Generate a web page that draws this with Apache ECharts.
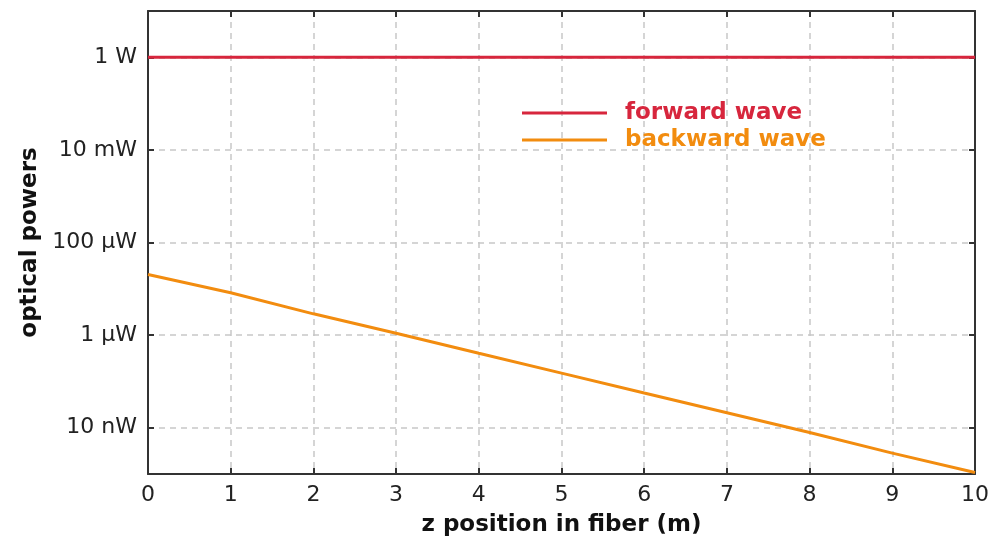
<!DOCTYPE html>
<html lang="en">
<head>
    <meta charset="UTF-8">
    <title>optical powers</title>
    <script src="https://cdn.jsdelivr.net/npm/echarts@6/dist/echarts.min.js"></script>
    <style>
        html, body { margin: 0; padding: 0; background: #fff; }
        #chart { width: 992px; height: 542px; }
    </style>
</head>
<body>
    <div id="chart"></div>
    <script>
        // z position in fiber (m)
        const zPos = [0, 1, 2, 3, 4, 5, 6, 7, 8, 9, 10];
        // powers in W
        const forwardWave = [1, 1, 1, 1, 1, 1, 1, 1, 1, 1, 1];
        const backwardWave = [2.04e-5, 8.2e-6, 2.88e-6, 1.1e-6, 4.06e-7, 1.51e-7, 5.6e-8, 2.1e-8, 7.85e-9, 2.82e-9, 1.08e-9];
        const seriesNames = ['forward wave', 'backward wave'];

        const red = '#d7263d', orange = '#f28c0f';
        const font = '"DejaVu Sans", Verdana, sans-serif';

        // 1 W, 10 mW, 100 µW ... (only even powers of ten get a label)
        const prefixes = { 0: '', '-1': 'm', '-2': 'µ', '-3': 'n' };
        function powerLabel(v) {
            const e = Math.round(Math.log10(v));
            if (e % 2 !== 0) return '';
            const k = Math.floor(e / 3);
            return Math.pow(10, e - 3 * k) + ' ' + prefixes[k] + 'W';
        }

        const chart = echarts.init(document.getElementById('chart'));
        // onZero off, otherwise the right axis jumps to x = 0
        const axisLine = () => ({ onZero: false, lineStyle: { color: '#333', width: 2 } });
        const tick = () => ({ show: true, inside: true, length: 6, lineStyle: { color: '#333', width: 2 } });
        const grid = { show: true, lineStyle: { color: '#c8c8c8', width: 1.5, type: [6, 5] } };

        chart.setOption({
            animation: false,
            grid: { left: 148, right: 16, top: 11, bottom: 68, containLabel: false },
            legend: {
                orient: 'vertical',
                left: 517,
                top: 96,
                itemWidth: 85,
                itemHeight: 3,
                itemGap: 3,
                textStyle: { fontFamily: font, fontSize: 23, fontWeight: 'bold', padding: [0, 0, 0, 13], lineHeight: 24 },
                data: [
                    { name: seriesNames[0], icon: 'rect', textStyle: { color: red } },
                    { name: seriesNames[1], icon: 'rect', textStyle: { color: orange } }
                ]
            },
            xAxis: [{
                type: 'value', min: 0, max: 10, interval: 1,
                name: 'z position in fiber (m)', nameLocation: 'middle', nameGap: 40,
                nameTextStyle: { fontFamily: font, fontSize: 23, fontWeight: 'bold', color: '#111' },
                axisLine: axisLine(), axisTick: tick(), splitLine: grid,
                axisLabel: { fontFamily: font, fontSize: 22, color: '#222', margin: 10 }
            }, {
                type: 'value', min: 0, max: 10, interval: 1, position: 'top',
                axisLine: axisLine(), axisTick: tick(), splitLine: { show: false }, axisLabel: { show: false }
            }],
            yAxis: [{
                type: 'log', logBase: 100, min: 1e-9, max: 10,
                name: 'optical powers', nameLocation: 'middle', nameGap: 99,
                nameTextStyle: { fontFamily: font, fontSize: 23, fontWeight: 'bold', color: '#111' },
                axisLine: axisLine(), axisTick: tick(), splitLine: grid,
                axisLabel: { fontFamily: font, fontSize: 22, color: '#222', margin: 11, formatter: powerLabel }
            }, {
                type: 'log', logBase: 100, min: 1e-9, max: 10, position: 'right',
                axisLine: axisLine(), axisTick: tick(), splitLine: { show: false }, axisLabel: { show: false }
            }],
            series: [{
                name: seriesNames[0], type: 'line', symbol: 'none',
                lineStyle: { color: red, width: 3 }, itemStyle: { color: red },
                data: zPos.map((z, i) => [z, forwardWave[i]])
            }, {
                name: seriesNames[1], type: 'line', symbol: 'none',
                lineStyle: { color: orange, width: 3 }, itemStyle: { color: orange },
                data: zPos.map((z, i) => [z, backwardWave[i]])
            }]
        });
    </script>
</body>
</html>
